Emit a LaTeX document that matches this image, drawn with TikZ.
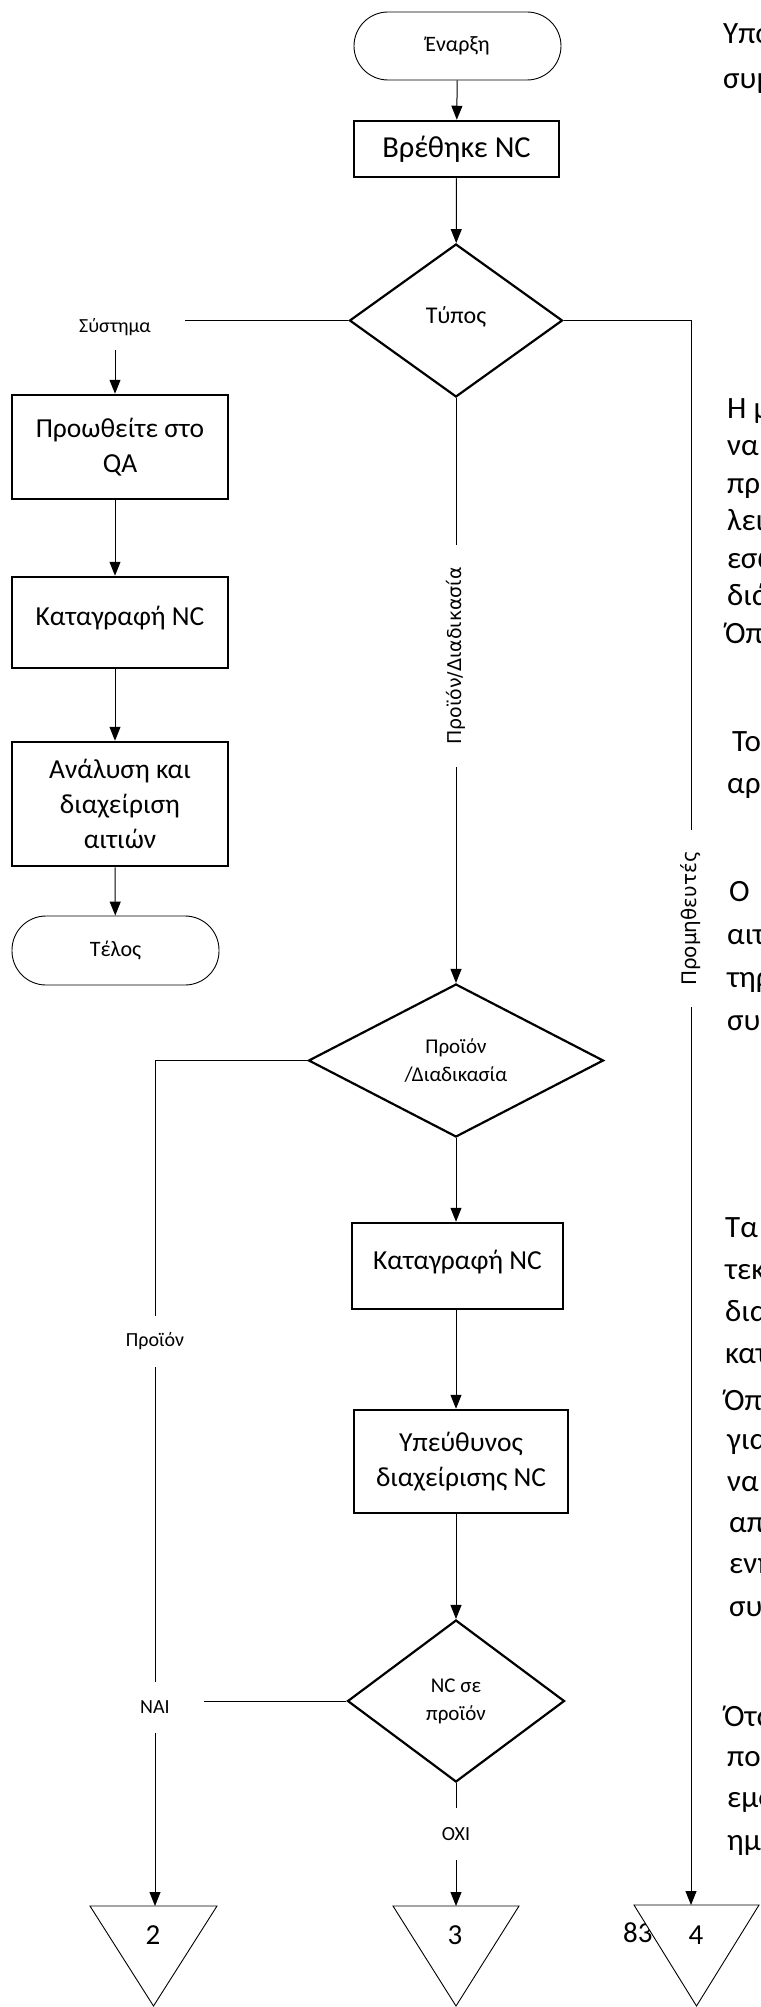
\documentclass[tikz,border=0pt]{standalone}
\usepackage{fontspec}
\setmainfont{Carlito}
\newfontfamily\dejavu{DejaVu Sans}
\usetikzlibrary{arrows.meta,shapes.geometric,calc}
\begin{document}
\begin{tikzpicture}[x=1pt,y=-1pt,
  box/.style={draw,line width=2.5pt,inner sep=0pt,align=center,font=\fontsize{27.5}{35}\selectfont},
  term/.style={draw,line width=0.9pt,rounded corners=34pt,inner sep=0pt,font=\fontsize{22}{24}\selectfont},
  dec/.style={draw,diamond,line width=2.2pt,inner sep=0pt,align=center,font=\fontsize{21}{28}\selectfont},
  lbl/.style={inner sep=0pt,font=\fontsize{20}{24}\selectfont},
  vlbl/.style={rotate=90,inner sep=0pt,font=\dejavu\fontsize{19}{20}\selectfont},
  conn/.style={line width=1pt},
  arr/.style={line width=1pt,-{Triangle[length=14pt,width=11pt]}},
  tri/.style={draw,fill=white,line width=0.9pt},
  num/.style={inner sep=0pt,font=\fontsize{29}{34}\selectfont},
  body/.style={anchor=base west,inner sep=0pt,font=\fontsize{31}{36}\selectfont},
]
\fill[white] (0,0) rectangle (760,2007);
\useasboundingbox (0,0) rectangle (760,2007);

% right-hand page text fragments (cut by the page edge)
\node[body] (b1) at (723,44) {Υπο};
\node[body] (b2) at (723,89) {συμ};
\node[body] (b3) at (727,418) {Η μη};
\node[body] (b4) at (727,455.5) {να};
\node[body] (b5) at (727,493) {προ};
\node[body] (b6) at (727,530.5) {λειτ};
\node[body] (b7) at (727,568) {εσω};
\node[body] (b8) at (727,605.5) {διάρ};
\node[body] (b9) at (725,643) {Όπω};
\node[body] (b10) at (732,751) {Τομ};
\node[body] (b11) at (727,793) {αρμ};
\node[body] (b12) at (729,901) {Ο};
\node[body] (b13) at (727,944) {αιτ};
\node[body] (b14) at (727,987) {τηρ};
\node[body] (b15) at (727,1030) {συμ};
\node[body] (b16) at (725,1237) {Τα};
\node[body] (b17) at (725,1279) {τεκμ};
\node[body] (b18) at (725,1321) {διαχ};
\node[body] (b19) at (725,1363) {κατα};
\node[body] (b20) at (724,1410) {Όπω};
\node[body] (b21) at (727,1449) {για};
\node[body] (b22) at (727,1491) {να};
\node[body] (b23) at (729,1532) {απο};
\node[body] (b24) at (729,1573) {ενη};
\node[body] (b25) at (729,1616) {συμ};
\node[body] (b26) at (724,1726) {Ότα};
\node[body] (b27) at (727,1766) {ποι};
\node[body] (b28) at (727,1807) {εμφ};
\node[body] (b29) at (727,1850) {ημε};
\node[body, font=\fontsize{29}{34}\selectfont] (pg) at (623,1942) {83};

% main column
\node[term, minimum width=207pt, minimum height=68pt] (start) at (457.5,46) {Έναρξη};
\node[box, font=\fontsize{30.5}{35}\selectfont, minimum width=205pt, minimum height=56pt] (found) at (456.5,149) {Βρέθηκε NC};
\node[dec, font=\fontsize{24}{28}\selectfont, minimum width=213pt, minimum height=153pt] (type) at (456,320.5) {\raisebox{11pt}{Τύπος}};

% system branch
\node[lbl, minimum width=140pt, minimum height=46pt] (sys) at (115,327) {Σύστημα};
\node[box, minimum width=216pt, minimum height=104pt] (qa) at (120,447) {Προωθείτε στο\\QA};
\node[box, minimum width=216pt, minimum height=91pt] (rec1) at (120,622.5) {\raisebox{13pt}{Καταγραφή NC}};
\node[box, minimum width=216pt, minimum height=124pt] (an) at (120,804) {Ανάλυση και\\διαχείριση\\αιτιών};
\node[term, minimum width=207pt, minimum height=69pt] (end) at (115.5,950.5) {Τέλος};

% product / process branch
\node[vlbl, minimum width=222pt] (pdl) at (456,656) {Προϊόν/Διαδικασία};
\node[dec, minimum width=295pt, minimum height=153pt] (pd) at (456,1060.5) {Προϊόν\\/Διαδικασία};
\node[box, minimum width=211pt, minimum height=86pt] (rec2) at (457.5,1266) {\raisebox{12pt}{Καταγραφή NC}};
\node[box, minimum width=214pt, minimum height=103pt] (resp) at (461,1461.5) {Υπεύθυνος\\διαχείρισης NC};
\node[dec, minimum width=217pt, minimum height=162pt] (nc) at (456,1701) {NC σε\\προϊόν};
\node[lbl, minimum height=52pt] (no) at (456,1834) {ΟΧΙ};

% product branch (left)
\node[lbl, minimum height=51pt] (prl) at (155,1341.5) {Προϊόν};
\node[lbl, minimum width=98pt, minimum height=51pt] (nai) at (155,1707.5) {ΝΑΙ};

% supplier branch (right)
\node[vlbl, font=\dejavu\fontsize{20}{22}\selectfont, minimum width=177pt] (supl) at (691,918.5) {Προμηθευτές};

% off-page connectors
\coordinate (t2) at (155,1906);
\coordinate (t3) at (456,1906);
\coordinate (t4) at (691,1905);
\draw[tri] (90,1906) -- (217,1906) -- (153.5,2006) -- cycle;
\draw[tri] (393,1906) -- (519,1906) -- (456,2006) -- cycle;
\draw[tri] (634,1905) -- (759,1905) -- (696.5,2006) -- cycle;
\node[num] (n2) at (153,1935) {2};
\node[num] (n3) at (455,1935) {3};
\node[num] (n4) at (696,1935) {4};

% connectors
\draw[arr] (start) -- (found);
\draw[arr] (found) -- (type);
\draw[conn] (type.west) -- (type.west -| sys.east);
\draw[arr] (sys) -- (sys |- qa.north);
\draw[arr] (qa.south -| sys) -- (rec1.north -| sys);
\draw[arr] (rec1.south -| sys) -- (an.north -| sys);
\draw[arr] (an.south -| sys) -- (end);
\draw[conn] (type.south) -- (pdl);
\draw[arr] (pdl) -- (pd.north);
\draw[arr] (pd.south) -- (pd.south |- rec2.north);
\draw[arr] (rec2.south -| pd.south) -- (resp.north -| pd.south);
\draw[arr] (resp.south -| nc.north) -- (nc.north);
\draw[conn] (nc.south) -- (no);
\draw[arr] (no) -- (t3);
\draw[conn] (pd.west) -| (prl);
\draw[conn] (prl) -- (nai);
\draw[conn] (nc.west) -- (nc.west -| nai.east);
\draw[arr] (nai) -- (t2);
\draw[conn] (type.east) -| (supl);
\draw[arr] (supl) -- (t4);
\end{tikzpicture}
\end{document}
